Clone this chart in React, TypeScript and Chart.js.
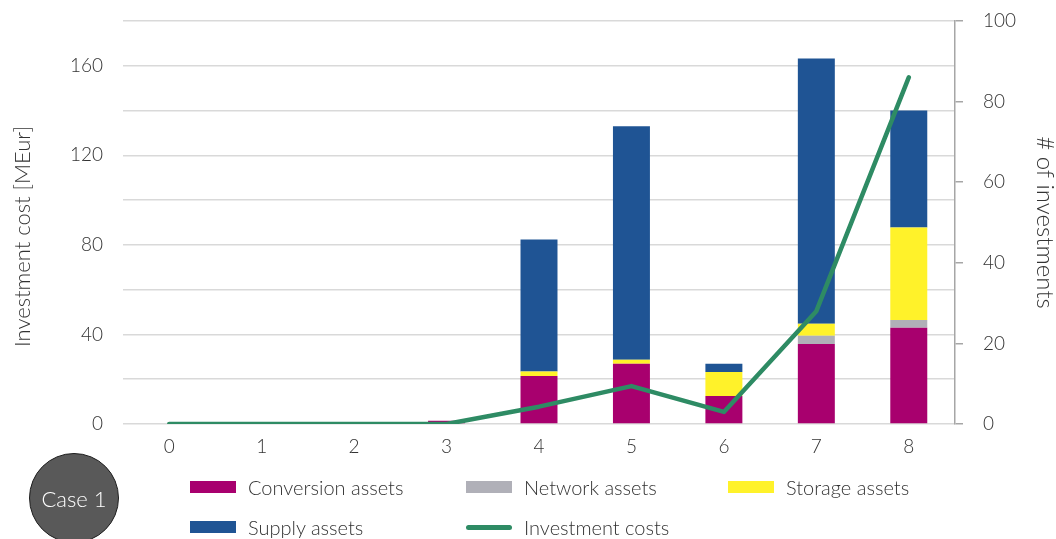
import React, { useEffect, useRef } from "react";
import { Chart, registerables } from "chart.js";

Chart.register(...registerables);

const categories = ["0", "1", "2", "3", "4", "5", "6", "7", "8"];
const conversionAssets = [0, 0, 0, 1.5, 21.4, 26.9, 12.5, 35.7, 43];
const networkAssets = [0, 0, 0, 0, 0, 0, 0, 3.7, 3.4];
const storageAssets = [0, 0, 0, 0, 2, 1.8, 10.7, 5.4, 41.4];
const supplyAssets = [0, 0, 0, 0, 59, 104.3, 3.7, 118.5, 52.2];
const investmentCounts = [0, 0, 0, 0, 4.3, 9.4, 3, 28, 86];

const leftTitle = "Investment cost [MEur]";
const rightTitle = "# of investments";
const legendNames = ["Conversion assets", "Network assets", "Storage assets", "Supply assets", "Investment costs"];

const C_CONV = "#a8006e";
const C_NET = "#b0b0b8";
const C_STOR = "#fff22a";
const C_SUP = "#1f5494";
const C_LINE = "#2e8b64";
const TEXT = "#333333";
const FONT = "Lato, 'Open Sans', sans-serif";

const axisTitles = {
  id: "axisTitles",
  afterDraw(chart: any) {
    const { ctx, chartArea } = chart;
    const midY = (chartArea.top + chartArea.bottom) / 2;
    ctx.save();
    ctx.font = `300 22px ${FONT}`;
    ctx.fillStyle = TEXT;
    ctx.textAlign = "center";
    ctx.textBaseline = "middle";
    ctx.save();
    ctx.translate(23, midY + 14);
    ctx.rotate(-Math.PI / 2);
    ctx.fillText(leftTitle, 0, 0);
    ctx.restore();
    ctx.font = `300 24px ${FONT}`;
    ctx.save();
    ctx.translate(chart.width - 11, midY);
    ctx.rotate(Math.PI / 2);
    ctx.fillText(rightTitle, 0, 0);
    ctx.restore();
    ctx.restore();
  },
};

function Swatch({ color, line }: { color: string; line?: boolean }) {
  return line ? (
    <div style={{ width: 46, height: 5, borderRadius: 3, background: color }} />
  ) : (
    <div style={{ width: 46, height: 12, background: color }} />
  );
}

function LegendItem({ x, y, color, label, line }: { x: number; y: number; color: string; label: string; line?: boolean }) {
  return (
    <div
      style={{
        position: "absolute",
        left: x,
        top: y - 13,
        height: 26,
        display: "flex",
        alignItems: "center",
        gap: 12,
        fontFamily: FONT,
        fontWeight: 300,
        fontSize: 20,
        color: TEXT,
        whiteSpace: "nowrap",
      }}
    >
      <Swatch color={color} line={line} />
      <span>{label}</span>
    </div>
  );
}

export default function App() {
  const ref = useRef<HTMLCanvasElement>(null);

  useEffect(() => {
    if (!ref.current) return;
    const tickFont = { family: FONT, size: 19, weight: 300 as any };
    const chart = new Chart(ref.current, {
      type: "bar",
      data: {
        labels: categories,
        datasets: [
          {
            type: "line",
            label: legendNames[4],
            data: investmentCounts,
            yAxisID: "y1",
            borderColor: C_LINE,
            backgroundColor: C_LINE,
            borderWidth: 4.5,
            pointRadius: 0,
            tension: 0,
            borderCapStyle: "round",
            borderJoinStyle: "round",
            order: 0,
          } as any,
          { label: legendNames[0], data: conversionAssets, backgroundColor: C_CONV, yAxisID: "y", order: 1 },
          { label: legendNames[1], data: networkAssets, backgroundColor: C_NET, yAxisID: "y", order: 1 },
          { label: legendNames[2], data: storageAssets, backgroundColor: C_STOR, yAxisID: "y", order: 1 },
          { label: legendNames[3], data: supplyAssets, backgroundColor: C_SUP, yAxisID: "y", order: 1 },
        ],
      },
      options: {
        animation: false,
        responsive: false,
        maintainAspectRatio: false,
        layout: { padding: { top: 21, left: 0, right: 0, bottom: 0 } },
        datasets: { bar: { categoryPercentage: 1, barPercentage: 0.4 } },
        plugins: { legend: { display: false }, tooltip: { enabled: false } },
        scales: {
          x: {
            stacked: true,
            grid: { display: false, drawTicks: false },
            border: { display: false },
            ticks: { font: tickFont, color: TEXT, padding: 11 },
            afterFit: (s: any) => {
              s.height = 115;
              s.paddingLeft = 0;
              s.paddingRight = 0;
            },
          },
          y: {
            stacked: true,
            position: "left",
            min: 0,
            max: 180,
            ticks: {
              stepSize: 20,
              font: tickFont,
              color: TEXT,
              padding: 20,
              callback: (v: any) => (Number(v) % 40 === 0 ? String(v) : ""),
            },
            grid: { color: "#d9d9d9", lineWidth: 1.5, drawTicks: false },
            border: { display: false },
            afterFit: (s: any) => {
              s.width = 123;
              s.paddingTop = 0;
              s.paddingBottom = 0;
            },
          },
          y1: {
            position: "right",
            min: 0,
            max: 100,
            ticks: {
              stepSize: 20,
              font: tickFont,
              color: TEXT,
              padding: 20,
            },
            grid: { drawOnChartArea: false, color: "#a6a6a6", tickLength: 8, lineWidth: 1.5 },
            border: { display: true, color: "#a6a6a6", width: 1.5 },
            afterFit: (s: any) => {
              s.width = 101;
              s.paddingTop = 0;
              s.paddingBottom = 0;
            },
          },
        },
      },
      plugins: [axisTitles],
    });
    return () => chart.destroy();
  }, []);

  return (
    <div
      style={{
        position: "fixed",
        left: 0,
        top: 0,
        width: 1056,
        height: 539,
        overflow: "hidden",
        background: "#ffffff",
      }}
    >
      <canvas ref={ref} width={1056} height={539} style={{ position: "absolute", left: 0, top: 0 }} />
      <LegendItem x={190} y={487} color={C_CONV} label={legendNames[0]} />
      <LegendItem x={466} y={487} color={C_NET} label={legendNames[1]} />
      <LegendItem x={728} y={487} color={C_STOR} label={legendNames[2]} />
      <LegendItem x={190} y={527} color={C_SUP} label={legendNames[3]} />
      <LegendItem x={466} y={527} color={C_LINE} label={legendNames[4]} line />
      <div
        style={{
          position: "absolute",
          left: 29,
          top: 453,
          width: 88,
          height: 88,
          borderRadius: "50%",
          background: "#595959",
          border: "1.5px solid #1e1e1e",
          display: "flex",
          alignItems: "center",
          justifyContent: "center",
          color: "#ffffff",
          fontFamily: FONT,
          fontWeight: 300,
          fontSize: 22,
        }}
      >
        Case 1
      </div>
    </div>
  );
}
